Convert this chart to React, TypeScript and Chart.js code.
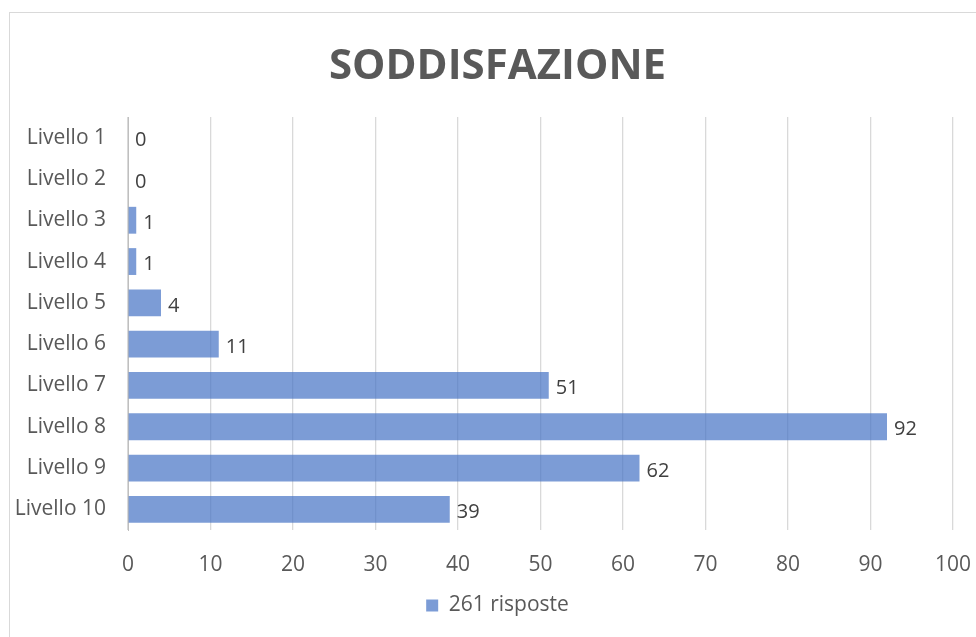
import React, { useEffect, useRef } from "react";
import { Chart, registerables } from "chart.js";

Chart.register(...registerables);

const categories = ["Livello 1", "Livello 2", "Livello 3", "Livello 4", "Livello 5", "Livello 6", "Livello 7", "Livello 8", "Livello 9", "Livello 10"];
const values = [0, 0, 1, 1, 4, 11, 51, 92, 62, 39];
const seriesName = "261 risposte";
const titleText = "SODDISFAZIONE";

const FONT = "'Open Sans', 'Noto Sans', sans-serif";
const CANVAS_W = 995;

const labelPlugin = {
  id: "valueLabels",
  afterDatasetsDraw(chart: any) {
    const ctx = chart.ctx;
    const meta = chart.getDatasetMeta(0);
    ctx.save();
    ctx.font = `20px ${FONT}`;
    ctx.fillStyle = "#404040";
    ctx.textAlign = "left";
    ctx.textBaseline = "middle";
    meta.data.forEach((el: any, i: number) => {
      ctx.fillText(String(values[i]), el.x + 7, el.y + 3);
    });
    ctx.restore();
  },
};

export default function App() {
  const ref = useRef<HTMLCanvasElement>(null);
  useEffect(() => {
    if (!ref.current) return;
    const chart = new Chart(ref.current, {
      type: "bar",
      data: {
        labels: categories,
        datasets: [
          {
            label: seriesName,
            data: values,
            backgroundColor: "rgba(68,114,196,0.7)",
            borderWidth: 0,
            categoryPercentage: 1,
            barPercentage: 0.65,
          },
        ],
      },
      plugins: [labelPlugin],
      options: {
        indexAxis: "y",
        animation: false,
        responsive: false,
        maintainAspectRatio: false,
        layout: { padding: { left: 0, right: 0, top: 0, bottom: 11 } },
        plugins: {
          tooltip: { enabled: false },
          title: {
            display: true,
            text: titleText,
            color: "#595959",
            font: { family: FONT, size: 42, weight: "bold" },
            padding: { top: 41.8, bottom: 24.8 },
          },
          legend: {
            position: "bottom",
            labels: {
              boxWidth: 12,
              boxHeight: 12,
              color: "#595959",
              font: { family: FONT, size: 21 },
              padding: 10,
            },
          },
        },
        scales: {
          y: {
            type: "category",
            grid: { display: false, drawTicks: false },
            border: { display: true, color: "#bfbfbf", width: 1 },
            ticks: { color: "#595959", font: { family: FONT, size: 21 }, padding: 22 },
            afterFit: (s: any) => {
              s.width = 128;
            },
          },
          x: {
            min: 0,
            max: 100,
            grid: { color: "#d9d9d9", lineWidth: 1.3, drawTicks: false },
            border: { display: false },
            ticks: { stepSize: 10, color: "#595959", font: { family: FONT, size: 21 }, padding: 22 },
            afterFit: (s: any) => {
              s.height = 55;
              s.paddingLeft = 0;
              s.paddingRight = CANVAS_W - 953;
            },
          },
        },
      },
    } as any);
    return () => chart.destroy();
  }, []);
  return (
    <div style={{ position: "fixed", left: 0, top: 0, width: 976, height: 637, overflow: "hidden", background: "#fff" }}>
      <div
        style={{
          position: "absolute",
          left: 9,
          top: 12,
          width: 1000,
          height: 700,
          border: "1px solid #d9d9d9",
          boxSizing: "border-box",
        }}
      />
      <canvas
        ref={ref}
        width={CANVAS_W}
        height={637}
        style={{ position: "absolute", left: 0, top: 0, width: CANVAS_W, height: 637 }}
      />
    </div>
  );
}
